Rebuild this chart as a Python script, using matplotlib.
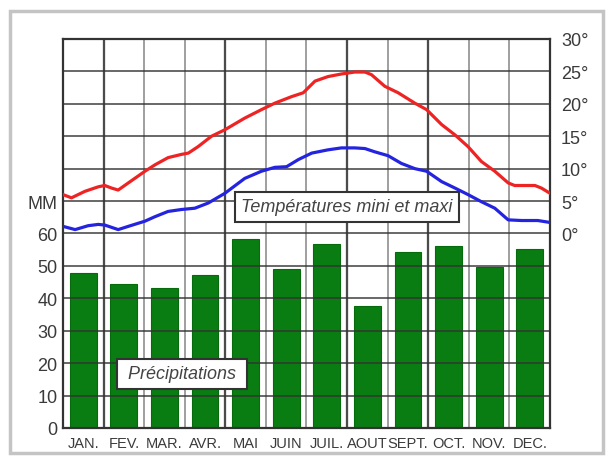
import matplotlib
matplotlib.use("Agg")
import matplotlib.pyplot as plt
from matplotlib.patches import Rectangle

# Précipitations mensuelles (mm)
months = ['JAN.', 'FEV.', 'MAR.', 'AVR.', 'MAI', 'JUIN', 'JUIL.', 'AOUT', 'SEPT.', 'OCT.', 'NOV.', 'DEC.']
precip = [47.8, 44.4, 43.1, 47.2, 58.3, 49.1, 56.9, 37.6, 54.2, 56.0, 49.8, 55.1]

# Températures maxi (relevé le long de la courbe, position en mois)
tmax_pos = [0.0, 0.21, 0.54, 0.87, 1.03, 1.2, 1.36, 1.61, 2.02, 2.27, 2.59, 2.92, 3.09, 3.33,
            3.66, 3.99, 4.48, 4.89, 5.22, 5.63, 5.92, 6.21, 6.53, 6.86, 7.19, 7.44, 7.6, 7.93,
            8.26, 8.67, 8.96, 9.33, 9.66, 9.98, 10.31, 10.64, 10.97, 11.13, 11.63, 11.79, 12.0]
tmax = [6.0, 5.5, 6.5, 7.2, 7.4, 7.0, 6.7, 7.8, 9.6, 10.6, 11.7, 12.2, 12.4, 13.4,
        15.0, 16.0, 17.8, 19.1, 20.1, 21.1, 21.7, 23.5, 24.2, 24.6, 24.9, 24.9, 24.5, 22.7,
        21.7, 20.1, 19.1, 16.8, 15.2, 13.4, 11.1, 9.6, 7.8, 7.4, 7.4, 7.0, 6.2]

# Températures mini
tmin_pos = [0.0, 0.3, 0.62, 0.87, 1.03, 1.36, 1.61, 2.02, 2.27, 2.59, 2.92, 3.25, 3.58, 3.99,
            4.48, 4.89, 5.22, 5.51, 5.8, 6.13, 6.53, 6.86, 7.19, 7.44, 7.68, 8.01, 8.34, 8.67,
            8.96, 9.33, 9.66, 9.98, 10.31, 10.64, 10.97, 11.3, 11.7, 12.0]
tmin = [1.1, 0.6, 1.2, 1.4, 1.3, 0.6, 1.1, 1.9, 2.6, 3.4, 3.7, 3.9, 4.7, 6.2,
        8.5, 9.6, 10.2, 10.3, 11.4, 12.4, 12.9, 13.2, 13.2, 13.1, 12.6, 12.0, 10.8, 10.0,
        9.6, 8.0, 7.0, 6.0, 4.9, 3.9, 2.1, 2.0, 2.0, 1.7]

mm_ticks = [0, 10, 20, 30, 40, 50, 60, 70]
mm_labels = ['0', '10', '20', '30', '40', '50', '60', 'MM']
deg_ticks = [0, 5, 10, 15, 20, 25, 30]
deg_labels = [f'{d}°' for d in deg_ticks]

plt.rcParams['font.family'] = ['Liberation Sans', 'DejaVu Sans']

fig = plt.figure(figsize=(6.09, 4.60), dpi=100)

# cadre de la vignette
fig.patches.append(Rectangle((0.016, 0.012), 0.974, 0.963, transform=fig.transFigure,
                             facecolor='none', edgecolor='#c4c4c4', lw=2.5, zorder=-1))

ax = fig.add_axes([0.1034, 0.0674, 0.7997, 0.8457])
ax.set_xlim(0, 12)
ax.set_ylim(0, 120)

x = [i + 0.5 for i in range(len(months))]
ax.bar(x, precip, width=0.66, color='#0a7d12', edgecolor='#066b0c', lw=0.8, zorder=1)

# quadrillage
ax.set_yticks(range(0, 121, 10))
ax.set_yticklabels([mm_labels[mm_ticks.index(v)] if v in mm_ticks else '' for v in range(0, 121, 10)])
ax.set_xticks(x)
ax.set_xticklabels(months)
ax.set_xticks(range(13), minor=True)
ax.grid(True, which='major', axis='y', color='#333333', lw=1.3, alpha=0.8)
ax.grid(True, which='minor', axis='x', color='#666666', lw=1.1, alpha=0.8)
for b in [1, 4, 7, 9]:
    ax.axvline(b, color='#222222', lw=1.6, zorder=2.5)
ax.set_axisbelow(False)
ax.tick_params(which='both', length=0)
ax.tick_params(axis='y', labelsize=13, labelcolor='#3a3a3a', pad=4)
ax.tick_params(axis='x', labelsize=10.5, labelcolor='#3a3a3a', pad=6)
for s in ax.spines.values():
    s.set_color('#333333')
    s.set_linewidth(1.6)
    s.set_zorder(3)

# axe des températures (0° = 60 mm, 5° = 10 mm)
ax2 = ax.twinx()
ax2.set_ylim(-30, 30)
ax2.set_yticks(deg_ticks)
ax2.set_yticklabels(deg_labels)
ax2.tick_params(length=0, labelsize=13, labelcolor='#3a3a3a', pad=8)
for s in ax2.spines.values():
    s.set_visible(False)
ax2.plot(tmax_pos, tmax, color='#ee2424', lw=2.3, solid_capstyle='round')
ax2.plot(tmin_pos, tmin, color='#2424e0', lw=2.3, solid_capstyle='round')

box = dict(boxstyle='square,pad=0.35', facecolor='white', edgecolor='#333333', lw=1.5)
ax2.text(7.0, 68.2, 'Températures mini et maxi', transform=ax.transData, ha='center', va='center',
         fontsize=13, style='italic', color='#444444', bbox=box, zorder=5)
ax2.text(2.93, 16.7, ' Précipitations ', transform=ax.transData, ha='center', va='center',
         fontsize=13, style='italic', color='#444444', bbox=box, zorder=5)

fig.savefig('out.png', dpi=100)
